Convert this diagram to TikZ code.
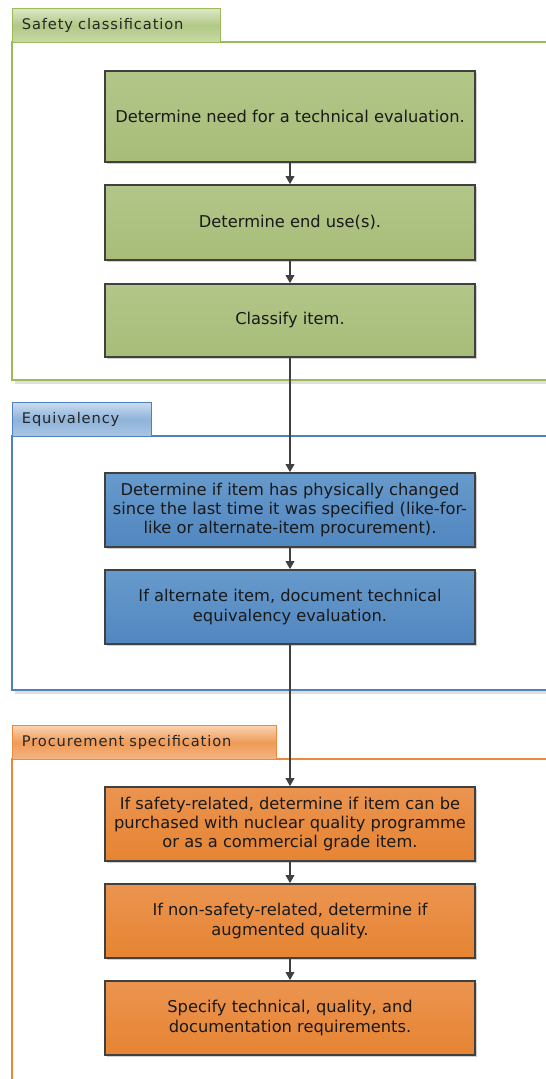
\documentclass[tikz,border=0pt]{standalone}
\usepackage{fontspec}
\setmainfont{DejaVu Sans}
\usetikzlibrary{arrows.meta,shadows}

% lane colours
\definecolor{grnline}{HTML}{9BBB59}
\definecolor{bluline}{HTML}{4F81BD}
\definecolor{orgline}{HTML}{EB8A3E}
% step box fills
\definecolor{grntop}{HTML}{B2C689}
\definecolor{grnbot}{HTML}{A8BD78}
\definecolor{blutop}{HTML}{679ACC}
\definecolor{blubot}{HTML}{5187C0}
\definecolor{orgtop}{HTML}{EB9450}
\definecolor{orgbot}{HTML}{E68432}
% tab fills
\definecolor{grntabA}{HTML}{DDE7C6}
\definecolor{grntabB}{HTML}{B1C886}
\definecolor{grntabC}{HTML}{C9DAA8}
\definecolor{blutabA}{HTML}{C9DBEF}
\definecolor{blutabB}{HTML}{8FB3DA}
\definecolor{blutabC}{HTML}{AAC5E4}
\definecolor{orgtabA}{HTML}{FBD3B0}
\definecolor{orgtabB}{HTML}{EE9B57}
\definecolor{orgtabC}{HTML}{F6B585}
\definecolor{boxline}{HTML}{404040}

\begin{document}
\begin{tikzpicture}[x=0.75pt,y=-0.75pt,
  stepbox/.style={draw=boxline, line width=1.3pt, align=center,
    minimum width=277.5pt, minimum height=55.5pt,
    inner sep=0pt, font=\fontsize{12.2}{14.4}\selectfont, text=black!90,
    drop shadow={shadow xshift=1.6pt, shadow yshift=-1.6pt, fill=black, opacity=0.18}},
  grnbox/.style={stepbox, top color=grntop, bottom color=grnbot},
  blubox/.style={stepbox, top color=blutop, bottom color=blubot},
  orgbox/.style={stepbox, top color=orgtop, bottom color=orgbot},
  lanetab/.style={anchor=north west, minimum height=25.5pt, inner xsep=7pt,
    inner ysep=0pt, text height=8pt, text depth=2pt, align=left, line width=0.8pt,
    font=\fontsize{11}{13}\selectfont\addfontfeature{LetterSpace=6}, text=black!85},
  laneline/.style={line width=0.8pt},
  laneshadow/.style={draw=black!13, line width=2pt},
  flow/.style={draw=boxline, line width=1.1pt,
    -{Triangle[width=6.5pt,length=6pt]}}
]
\useasboundingbox (0,0) rectangle (546,1079);

% ---- Safety classification lane ----
\draw[laneshadow] (15,382.5) -- (546,382.5);
\draw[laneline, draw=grnline] (546,42) -- (12,42) -- (12,380) -- (546,380);
\node[lanetab, draw=grnline, text width=142pt,
  top color=grntabA, bottom color=grntabC, middle color=grntabB]
  (tabA) at (12,8) {Safety classification};

% ---- Equivalency lane ----
\draw[laneshadow] (15,692.5) -- (546,692.5);
\draw[laneline, draw=bluline] (546,436) -- (12,436) -- (12,690) -- (546,690);
\node[lanetab, draw=bluline, text width=90.25pt,
  top color=blutabA, bottom color=blutabC, middle color=blutabB]
  (tabB) at (12,402) {Equivalency};

% ---- Procurement specification lane ----
\draw[laneline, draw=orgline] (546,759) -- (12,759) -- (12,1079);
\node[lanetab, draw=orgline, text width=184pt,
  top color=orgtabA, bottom color=orgtabC, middle color=orgtabB]
  (tabC) at (12,725) {Procurement specification};

% ---- steps ----
\node[grnbox, minimum height=68.25pt] (s1) at (290,116.5)
  {Determine need for a technical evaluation.};
\node[grnbox, minimum height=56.25pt] (s2) at (290,222.5)
  {Determine end use(s).};
\node[grnbox, minimum height=54.75pt] (s3) at (290,320.5)
  {Classify item.};

\node[blubox] (s4) at (290,510)
  {Determine if item has physically changed\\ since the last time it was specified (like-for-\\ like or alternate-item procurement).};
\node[blubox] (s5) at (290,607)
  {If alternate item, document technical\\ equivalency evaluation.};

\node[orgbox] (s6) at (290,824)
  {If safety-related, determine if item can be\\ purchased with nuclear quality programme\\ or as a commercial grade item.};
\node[orgbox] (s7) at (290,921)
  {If non-safety-related, determine if\\ augmented quality.};
\node[orgbox] (s8) at (290,1018)
  {Specify technical, quality, and\\ documentation requirements.};

% ---- connectors ----
\draw[flow] (s1) -- (s2);
\draw[flow] (s2) -- (s3);
\draw[flow] (s3) -- (s4);
\draw[flow] (s4) -- (s5);
\draw[flow] (s5) -- (s6);
\draw[flow] (s6) -- (s7);
\draw[flow] (s7) -- (s8);
\end{tikzpicture}
\end{document}
